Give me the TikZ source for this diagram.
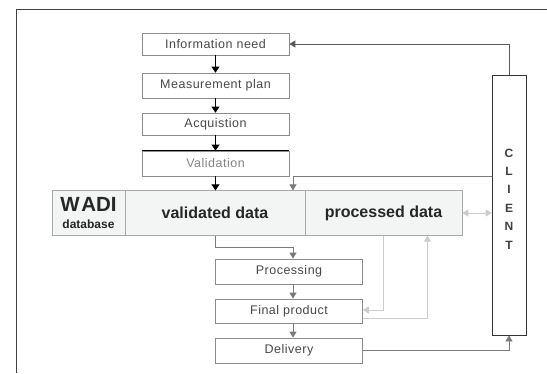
\documentclass[tikz,border=0pt]{standalone}
\usepackage{fontspec}
\setmainfont{Liberation Sans}
\newfontfamily\boxfam[LetterSpace=4]{Liberation Sans}
\usetikzlibrary{arrows.meta}
\definecolor{boxline}{HTML}{8C8C8C}
\definecolor{boxtext}{HTML}{484848}
\definecolor{valtext}{HTML}{858585}
\definecolor{dbfill}{HTML}{F3F4F4}
\definecolor{dbline}{HTML}{A8A8A8}
\definecolor{darkline}{HTML}{5A5A5A}
\definecolor{midline}{HTML}{7A7A7A}
\definecolor{lightline}{HTML}{CCCCCC}
\newcommand{\boxfont}{\boxfam\fontsize{12.5}{14}\selectfont}
\newcommand{\dbfont}{\bfseries\fontsize{16}{18}\selectfont}

\begin{document}
\begin{tikzpicture}[x=1pt,y=-1pt,
		stepbox/.style={draw=boxline, line width=0.7pt, fill=white, text=boxtext, minimum width=147pt, inner sep=0pt, font=\boxfont},
		dbbox/.style={draw=dbline, line width=0.7pt, fill=dbfill, text=black!85, minimum height=44.5pt, inner sep=0pt},
		clientbox/.style={draw=black!80, line width=0.8pt, fill=white, minimum width=34pt, minimum height=260pt, align=center, text depth=12pt, font=\bfseries\fontsize{12}{18.4}\selectfont, text=black!75},
		blk/.style={-{Triangle[length=6pt,width=8pt]}, black, line width=0.7pt},
		dk/.style={-{Triangle[length=6pt,width=7pt]}, darkline, line width=0.8pt},
		gr/.style={-{Triangle[length=6pt,width=7pt]}, midline, line width=0.8pt},
		lt/.style={-{Triangle[length=6pt,width=7pt]}, lightline, line width=0.9pt}]
	\useasboundingbox (0,0) rectangle (547,373);
	\draw[black!75, line width=1pt] (16,373) -- (16,9) -- (547,9);

	\node[stepbox, minimum height=22pt] (info) at (215.5,44) {Information need};
	\node[stepbox, minimum height=25pt] (plan) at (215.5,85.5) {Measurement plan};
	\node[stepbox, minimum height=22pt] (acq) at (215.5,124) {Acquistion};
	\node[stepbox, minimum height=25pt, text=valtext] (val) at (215.5,163.5) {Validation};
	\draw[black, line width=0.9pt] (val.north west) -- (val.north east);

	\node[dbbox, minimum width=73pt, align=center] (wadi) at (88.5,213) {{\bfseries\fontsize{20.5}{20}\selectfont W\kern1.5pt ADI}\\[5pt]{\bfseries\fontsize{12}{12}\selectfont database}};
	\node[dbbox, minimum width=180pt, font=\dbfont] (vdata) at (215,213) {validated data};
	\node[dbbox, minimum width=157pt, font=\dbfont] (pdata) at (383.5,213) {processed data};

	\node[stepbox, minimum height=25pt] (proc) at (289,271.5) {Processing};
	\node[stepbox, minimum height=24pt] (final) at (289,311) {Final product};
	\node[stepbox, minimum height=25pt] (deliv) at (289,350.5) {Delivery};
	\node[clientbox] (client) at (509,205) {C\\L\\I\\E\\N\\T};
	\coordinate (px) at ([xshift=4pt]proc.north);

	\draw[blk] (info) -- (plan);
	\draw[blk] (plan) -- (acq);
	\draw[blk] (acq) -- (val);
	\draw[blk] (val.south) -- (val.south |- vdata.north);
	\draw[dk] (client.north) |- (info.east);
	\draw[gr] (client.west |- val.south) -| (px |- vdata.north);
	\draw[gr] (vdata.south) -- ++(0,12) -| (px);
	\draw[gr] (px |- proc.south) -- (px |- final.north);
	\draw[gr] (px |- final.south) -- (px |- deliv.north);
	\draw[lt] (pdata.south) |- ([yshift=1pt]final.east);
	\draw[lt] ([yshift=-7pt]final.east) -| ([xshift=44pt]pdata.south);
	\draw[lt, {Triangle[length=6pt,width=7pt]}-{Triangle[length=6pt,width=7pt]}] (pdata.east) -- (pdata.east -| client.west);
	\draw[gr] (deliv.east) -| (client.south);
\end{tikzpicture}
\end{document}
